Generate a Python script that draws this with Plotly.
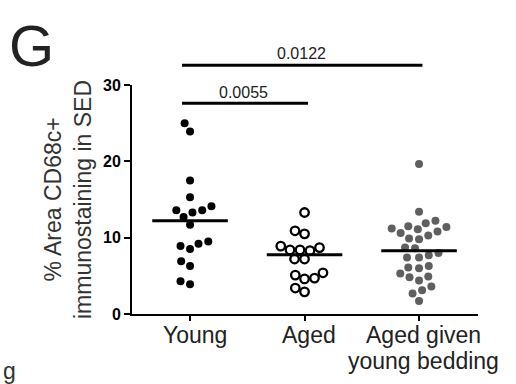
import math
import numpy as np
import plotly.graph_objects as go

# ---------------- data ----------------
categories = ["Young", "Aged", "Aged given<br>young bedding"]
young = [25.0, 23.9, 17.5, 15.3, 13.6, 13.3, 13.6, 14.1, 12.7, 11.7,
         9.2, 8.5, 8.9, 9.5, 6.9, 6.3, 3.9, 4.3]
aged = [13.3, 10.5, 10.9, 8.4, 8.3, 8.9, 8.7, 8.4, 7.2, 7.2,
        5.1, 4.6, 4.7, 5.4, 2.9, 3.4]
aged_bedding = [19.65, 13.4, 11.9, 11.4, 11.2, 11.5, 12.2, 10.8, 10.3, 9.8,
                9.9, 10.6, 11.1, 8.7, 8.0, 7.4, 7.4, 7.7, 8.6, 6.3,
                6.0, 4.9, 4.8, 5.3, 6.1, 4.4, 3.1, 3.6, 2.7, 1.7]
comparisons = [(0, 1), (0, 2)]
p_values = ["0.0055", "0.0122"]
bracket_heights = [27.6, 32.6]
y_ticks = [0, 10, 20, 30]

# ---------------- layout geometry ----------------
W, H = 516, 384
ML, MR, MT, MB = 132, 38, 85, 70
PW, PH = W - ML - MR, H - MT - MB
XR = [-0.507, 2.515]
YR = [0, 30]
XPX = PW / (XR[1] - XR[0])
YPX = PH / (YR[1] - YR[0])


def swarm(vals, d=10.0):
    order = sorted(range(len(vals)), key=lambda i: vals[i])
    placed = []
    out = [0.0] * len(vals)
    for i in order:
        y = vals[i] * YPX
        cands = [0.0]
        for px, py in placed:
            dy = abs(py - y)
            if dy < d:
                dx = math.sqrt(d * d - dy * dy)
                cands += [px + dx, px - dx]
        cands.sort(key=lambda c: (abs(c), c))
        x = 0.0
        for c in cands:
            if all((c - px) ** 2 + (y - py) ** 2 >= d * d - 1e-6 for px, py in placed):
                x = c
                break
        placed.append((x, y))
        out[i] = x / XPX
    return out


def px2paper_x(px):
    return (px - ML) / PW


def px2paper_y(py):
    return (H - MB - py) / PH


FONT = "Liberation Sans, Arial, Helvetica, sans-serif"
groups = [young, aged, aged_bedding]
markers = [
    dict(color="black", size=8, line=dict(width=0)),
    dict(color="white", size=8.5, line=dict(color="black", width=2.3)),
    dict(color="#5f5f5f", size=8, line=dict(width=0)),
]

fig = go.Figure()
shapes = []
for gi, vals in enumerate(groups):
    offs = swarm(vals)
    fig.add_trace(go.Scatter(
        x=[gi + o for o in offs], y=vals, mode="markers",
        marker=markers[gi], cliponaxis=False, showlegend=False,
        hoverinfo="y"))
    med = float(np.median(vals))
    shapes.append(dict(type="line", xref="x", yref="y", x0=gi - 0.33, x1=gi + 0.33,
                       y0=med, y1=med, line=dict(color="black", width=3)))

annotations = []
text_shift = [11, 12]
for k, ((a, b), p, h) in enumerate(zip(comparisons, p_values, bracket_heights)):
    yp = (h - YR[0]) / (YR[1] - YR[0])
    shapes.append(dict(type="line", xref="x", yref="paper", x0=a - 0.07, x1=b + 0.03,
                       y0=yp, y1=yp, line=dict(color="black", width=3)))
    annotations.append(dict(x=(a + b) / 2 - 0.03, y=yp, xref="x", yref="paper",
                            text=p, showarrow=False, yanchor="middle",
                            yshift=text_shift[k],
                            font=dict(family=FONT, size=16, color="#222")))

# category labels (one annotation per text line, tight line spacing)
for gi, cat in enumerate(categories):
    for li, line in enumerate(cat.split("<br>")):
        annotations.append(dict(x=gi + 0.04, y=px2paper_y(335 + 26 * li), xref="x", yref="paper",
                                text=line, showarrow=False, xanchor="center", yanchor="middle",
                                font=dict(family=FONT, size=23, color="#222")))

annotations.append(dict(x=px2paper_x(68), y=px2paper_y(200), xref="paper", yref="paper",
                        text="% Area CD68c+<br>immunostaining in SED", textangle=-90,
                        showarrow=False, xanchor="center", yanchor="middle",
                        font=dict(family=FONT, size=23, color="#333")))
annotations.append(dict(x=px2paper_x(32), y=px2paper_y(46), xref="paper", yref="paper",
                        text="G", showarrow=False, xanchor="center", yanchor="middle",
                        font=dict(family=FONT, size=58, color="#222")))
annotations.append(dict(x=px2paper_x(1), y=px2paper_y(371), xref="paper", yref="paper",
                        text="g", showarrow=False, xanchor="left", yanchor="middle",
                        font=dict(family=FONT, size=23, color="#333")))

fig.update_layout(
    width=W, height=H,
    margin=dict(l=ML, r=MR, t=MT, b=MB, pad=0, autoexpand=False),
    paper_bgcolor="white", plot_bgcolor="white",
    shapes=shapes, annotations=annotations,
    xaxis=dict(range=XR, tickvals=[0, 1, 2], showticklabels=False, automargin=False,
               showgrid=False, zeroline=False, showline=True, linecolor="black",
               linewidth=2, ticks="outside", ticklen=5, tickwidth=2, tickcolor="black"),
    yaxis=dict(range=YR, tickvals=y_ticks, showgrid=False, zeroline=False, automargin=False,
               showline=True, linecolor="black", linewidth=2, ticks="outside",
               ticklen=6, tickwidth=2, tickcolor="black",
               tickfont=dict(family=FONT, size=16, color="black", weight="bold")),
)

fig.write_html("out.html")
